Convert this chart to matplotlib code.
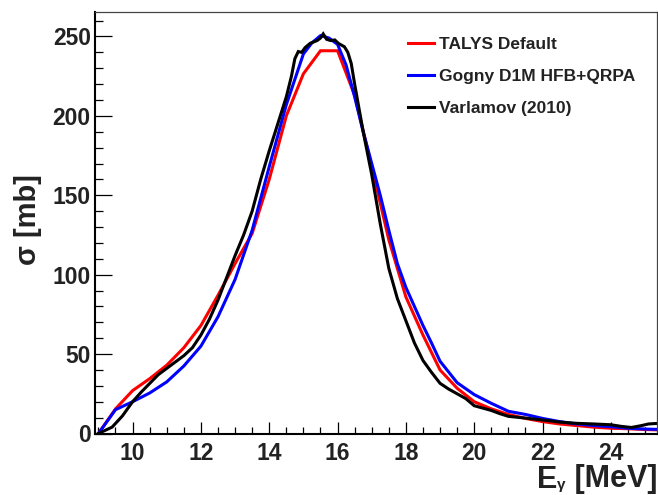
import matplotlib
matplotlib.use("Agg")
import matplotlib.pyplot as plt
from matplotlib.ticker import MultipleLocator

plt.rcParams['font.family'] = ['Liberation Sans', 'DejaVu Sans']
plt.rcParams['font.weight'] = 'bold'

# ---- data ----
talys_e = [9.0, 9.5, 10.0, 10.5, 11.0, 11.5, 12.0, 12.5, 13.0, 13.5, 14.0, 14.5, 15.0,
           15.5, 16.0, 16.5, 17.0, 17.5, 18.0, 18.5, 19.0, 19.5, 20.0, 20.5, 21.0,
           21.5, 22.0, 22.5, 23.0, 23.5, 24.0, 24.5, 25.0, 25.5]
talys_xs = [0, 15.5, 27, 34.5, 43, 54, 68, 87, 107, 126, 160, 200, 226.5,
            241, 241, 213, 168, 122, 86, 62, 40, 28.5, 20, 15.5, 12,
            9.5, 7.5, 6, 5, 4, 3.3, 3, 2.5, 2.2]

gogny_e = [9.0, 9.5, 10.0, 10.5, 11.0, 11.5, 12.0, 12.5, 13.0, 13.5, 14.0, 14.5,
           15.0, 15.25, 15.5, 15.75, 16.0, 16.25, 16.5, 16.75, 17.0, 17.25, 17.5,
           17.75, 18.0, 18.25, 18.5, 18.75, 19.0, 19.5, 20.0, 20.5, 21.0, 21.5,
           22.0, 22.5, 23.0, 23.5, 24.0, 24.5, 25.0, 25.5]
gogny_xs = [0, 15, 20, 25.5, 32.5, 42.5, 55, 73.5, 97, 128, 168, 207,
            239, 246, 250.5, 249, 245, 232, 212, 190, 170, 150, 128,
            107, 92, 80, 68, 57, 45.5, 32, 24.5, 19, 14, 12,
            9.5, 7.5, 6, 5, 4.3, 3.3, 2.8, 2.5]

varl_e = [9.0, 9.4, 9.7, 10.0, 10.25, 10.5, 10.75, 11.0, 11.25, 11.5, 11.75, 12.0,
          12.25, 12.5, 12.75, 13.0, 13.25, 13.5, 13.75, 14.0, 14.25, 14.5, 14.65,
          14.75, 14.85, 14.95, 15.05, 15.2, 15.4, 15.5, 15.58, 15.68, 15.8, 15.92,
          16.02, 16.2, 16.3, 16.4, 16.5, 16.75, 17.0, 17.25, 17.5, 17.75, 18.0,
          18.25, 18.5, 18.75, 19.0, 19.25, 19.5, 19.75, 20.0, 20.25, 20.5, 20.75,
          21.0, 21.5, 22.0, 22.5, 23.0, 23.5, 24.0, 24.3, 24.6, 24.9, 25.1, 25.4]
varl_xs = [0, 4, 11, 20, 26, 31.5, 37, 41, 45, 49, 54, 62,
           72, 84, 98, 112, 125, 140, 160, 178, 195, 212, 225,
           236, 240.5, 240, 243, 245.7, 247.4, 249, 251.6, 248.2, 247.4, 247.8,
           245.7, 243.5, 240, 233, 220, 190, 163, 132, 104, 85, 71,
           57, 46, 38.5, 31.6, 28, 25, 22, 17.5, 16, 14.5, 12.5,
           10.8, 9.7, 8.5, 7.2, 6.4, 6, 5.5, 4.5, 3.8, 5, 6, 6.4]

labels = ["TALYS Default", "Gogny D1M HFB+QRPA", "Varlamov (2010)"]
colors = ["#ff0000", "#0000ff", "#000000"]

xticks = [10, 12, 14, 16, 18, 20, 22, 24]
yticks = [0, 50, 100, 150, 200, 250]

# ---- figure ----
fig = plt.figure(figsize=(6.58, 4.95), dpi=100)
ax = fig.add_axes([95/658, 1-433.5/495, (657-95)/658, (433.5-12)/495])

lw = 2.2
ax.plot(talys_e, talys_xs, color=colors[0], lw=lw, label=labels[0], solid_joinstyle='miter')
ax.plot(gogny_e, gogny_xs, color=colors[1], lw=lw, label=labels[1], solid_joinstyle='miter')
ax.plot(varl_e, varl_xs, color=colors[2], lw=lw, label=labels[2], solid_joinstyle='miter')

ax.set_xlim(8.9, 25.35)
ax.set_ylim(0, 265.4)

ax.set_xticks(xticks)
ax.set_yticks(yticks)
ax.xaxis.set_minor_locator(MultipleLocator(0.5))
ax.yaxis.set_minor_locator(MultipleLocator(10))

tc = '#222222'
ax.tick_params(axis='both', which='both', direction='in', top=False, right=False,
               colors='black', labelcolor=tc, width=0.9)
ax.tick_params(axis='y', which='major', length=12, pad=3, labelsize=16.5)
ax.tick_params(axis='y', which='minor', length=6)
ax.tick_params(axis='x', which='major', length=9, pad=6, labelsize=16.5)
ax.tick_params(axis='x', which='minor', length=5)
for lab in ax.get_xticklabels() + ax.get_yticklabels():
    lab.set_fontweight('bold')

for s in ['left', 'bottom']:
    ax.spines[s].set_linewidth(1.5)
for s in ['top', 'right']:
    ax.spines[s].set_linewidth(0.9)
    ax.spines[s].set_color('#444444')

fig.text(28/658, 1-220/495, "σ [mb]", rotation=90, ha='center', va='center',
         fontsize=21, fontweight='bold', color=tc)

# x-axis title: "E" + small subscript gamma + " [MeV]", right-aligned at axis end
base = 1 - 487.5/495
t_mev = fig.text(657/658, base, " [MeV]", ha='right', va='baseline',
                 fontsize=22, fontweight='bold', color=tc)
t_g = fig.text(0, 0, "γ", ha='right', va='baseline', fontsize=11,
               fontweight='bold', color=tc)
fig.canvas.draw()
r = fig.canvas.get_renderer()
bb = t_mev.get_window_extent(r)
t_g.set_position((bb.x0 / fig.bbox.width, base - 2/495))
fig.canvas.draw()
bg = t_g.get_window_extent(r)
fig.text(bg.x0 / fig.bbox.width, base, "E", ha='right', va='baseline',
         fontsize=22, fontweight='bold', color=tc)

leg = ax.legend(loc='upper left',
                bbox_to_anchor=((408-95)/562 - 0.0, 1-(30-12+6.5)/421.5),
                frameon=False, fontsize=12.5, handlelength=1.5, handletextpad=0.3,
                labelspacing=0.98, borderaxespad=0, borderpad=0)
for t in leg.get_texts():
    t.set_fontweight('bold')
    t.set_color(tc)

fig.savefig("out.png", dpi=100)
